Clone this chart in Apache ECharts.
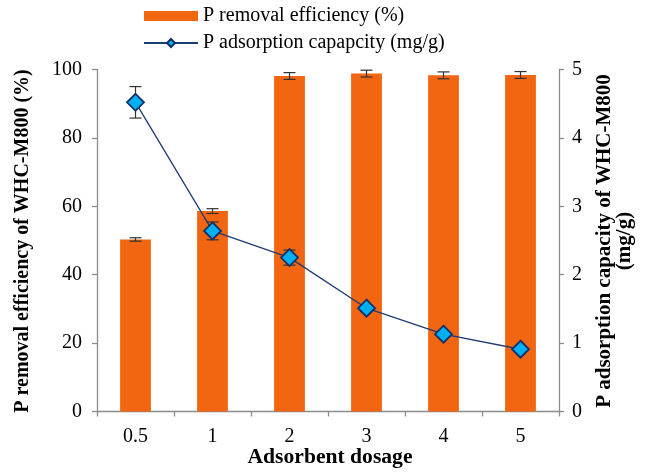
<!DOCTYPE html>
<html>
<head>
<meta charset="utf-8">
<script src="https://cdn.jsdelivr.net/npm/echarts@6/dist/echarts.min.js"></script>
<style>
  html, body { margin: 0; padding: 0; background: #fff; }
  #chart { width: 651px; height: 475px; }
</style>
</head>
<body>
<div id="chart"></div>
<script>
// Adsorbent dosage categories
const dosages = ['0.5', '1', '2', '3', '4', '5'];
// P removal efficiency (%) and its standard deviation
const removalEfficiency = [50.3, 58.6, 98.1, 98.8, 98.3, 98.4];
const removalError = [0.5, 0.7, 1.0, 1.0, 1.0, 1.0];
// P adsorption capacity (mg/g) and its standard deviation
const adsorptionCapacity = [4.52, 2.64, 2.25, 1.51, 1.13, 0.91];
const adsorptionError = [0.23, 0.13, 0.11, 0.05, 0.04, 0.03];
// Axis tick values
const leftTicks = [0, 20, 40, 60, 80, 100];
const rightTicks = [0, 1, 2, 3, 4, 5];

const FONT = '"Liberation Serif", "Times New Roman", serif';

function errorItems(values, errors) {
  return values.map((v, i) => [i, v - errors[i], v + errors[i]]);
}

function renderErrorBar(params, api) {
  const idx = api.value(0);
  const lo = api.coord([idx, api.value(1)]);
  const hi = api.coord([idx, api.value(2)]);
  const cap = 6;
  const style = { stroke: '#333', lineWidth: 1.2 };
  return {
    type: 'group',
    children: [
      { type: 'line', shape: { x1: hi[0], y1: hi[1], x2: lo[0], y2: lo[1] }, style },
      { type: 'line', shape: { x1: hi[0] - cap, y1: hi[1], x2: hi[0] + cap, y2: hi[1] }, style },
      { type: 'line', shape: { x1: lo[0] - cap, y1: lo[1], x2: lo[0] + cap, y2: lo[1] }, style }
    ]
  };
}

const chart = echarts.init(document.getElementById('chart'), null, { renderer: 'canvas' });

const axisLineStyle = { color: '#8c8c8c', width: 1.3 };

chart.setOption({
  animation: false,
  backgroundColor: '#fff',
  textStyle: { fontFamily: FONT },
  legend: {
    orient: 'vertical',
    left: 138,
    top: 1,
    itemWidth: 54,
    itemHeight: 10,
    itemGap: 7,
    textStyle: { fontFamily: FONT, fontSize: 20, color: '#000' },
    data: [
      { name: 'P removal efficiency (%)', icon: 'rect' },
      { name: 'P adsorption capapcity (mg/g)' }
    ]
  },
  grid: { left: 97, right: 92, top: 69.5, bottom: 63.5, containLabel: false },
  xAxis: {
    type: 'category',
    data: dosages,
    boundaryGap: true,
    axisLine: { lineStyle: axisLineStyle },
    axisTick: { show: true, length: 5, lineStyle: axisLineStyle },
    axisLabel: { fontFamily: FONT, fontSize: 20, color: '#000', margin: 15 },
    splitLine: { show: false }
  },
  yAxis: [
    {
      type: 'value',
      min: leftTicks[0],
      max: leftTicks[leftTicks.length - 1],
      interval: 20,
      axisLine: { show: true, lineStyle: axisLineStyle },
      axisTick: { show: true, length: 5, lineStyle: axisLineStyle },
      axisLabel: { fontFamily: FONT, fontSize: 20, color: '#000', margin: 15 },
      splitLine: { show: false }
    },
    {
      type: 'value',
      position: 'right',
      min: rightTicks[0],
      max: rightTicks[rightTicks.length - 1],
      interval: 1,
      axisLine: { show: true, lineStyle: axisLineStyle },
      axisTick: { show: true, length: 5, lineStyle: axisLineStyle },
      axisLabel: { fontFamily: FONT, fontSize: 20, color: '#000', margin: 13 },
      splitLine: { show: false }
    }
  ],
  graphic: [
    {
      type: 'text',
      x: 23, y: 241,
      rotation: Math.PI / 2,
      style: {
        text: 'P removal efficiency of WHC-M800 (%)',
        font: 'bold 20px ' + FONT,
        fill: '#000',
        align: 'center',
        verticalAlign: 'middle'
      }
    },
    {
      type: 'text',
      x: 605, y: 241,
      rotation: Math.PI / 2,
      style: {
        text: 'P adsorption capacity of WHC-M800',
        font: 'bold 21px ' + FONT,
        fill: '#000',
        align: 'center',
        verticalAlign: 'middle'
      }
    },
    {
      type: 'text',
      x: 625, y: 241,
      rotation: Math.PI / 2,
      style: {
        text: '(mg/g)',
        font: 'bold 21px ' + FONT,
        fill: '#000',
        align: 'center',
        verticalAlign: 'middle'
      }
    },
    {
      type: 'text',
      x: 330, y: 458,
      scaleX: 1.08,
      style: {
        text: 'Adsorbent dosage',
        font: 'bold 20px ' + FONT,
        fill: '#000',
        align: 'center',
        verticalAlign: 'middle'
      }
    }
  ],
  series: [
    {
      name: 'P removal efficiency (%)',
      type: 'bar',
      data: removalEfficiency,
      barWidth: '40%',
      itemStyle: { color: '#F26511' },
      z: 1
    },
    {
      name: 'removal-error',
      type: 'custom',
      renderItem: renderErrorBar,
      data: errorItems(removalEfficiency, removalError),
      encode: { x: 0, y: [1, 2] },
      z: 2,
      silent: true
    },
    {
      name: 'capacity-error',
      type: 'custom',
      yAxisIndex: 1,
      renderItem: renderErrorBar,
      data: errorItems(adsorptionCapacity, adsorptionError),
      encode: { x: 0, y: [1, 2] },
      z: 3,
      silent: true
    },
    {
      name: 'P adsorption capapcity (mg/g)',
      type: 'line',
      yAxisIndex: 1,
      data: adsorptionCapacity,
      symbol: 'diamond',
      symbolSize: 17,
      lineStyle: { color: '#1F3B73', width: 1.3 },
      itemStyle: { color: '#00B0F0', borderColor: '#10306A', borderWidth: 1.8 },
      z: 4
    }
  ]
});
</script>
</body>
</html>
